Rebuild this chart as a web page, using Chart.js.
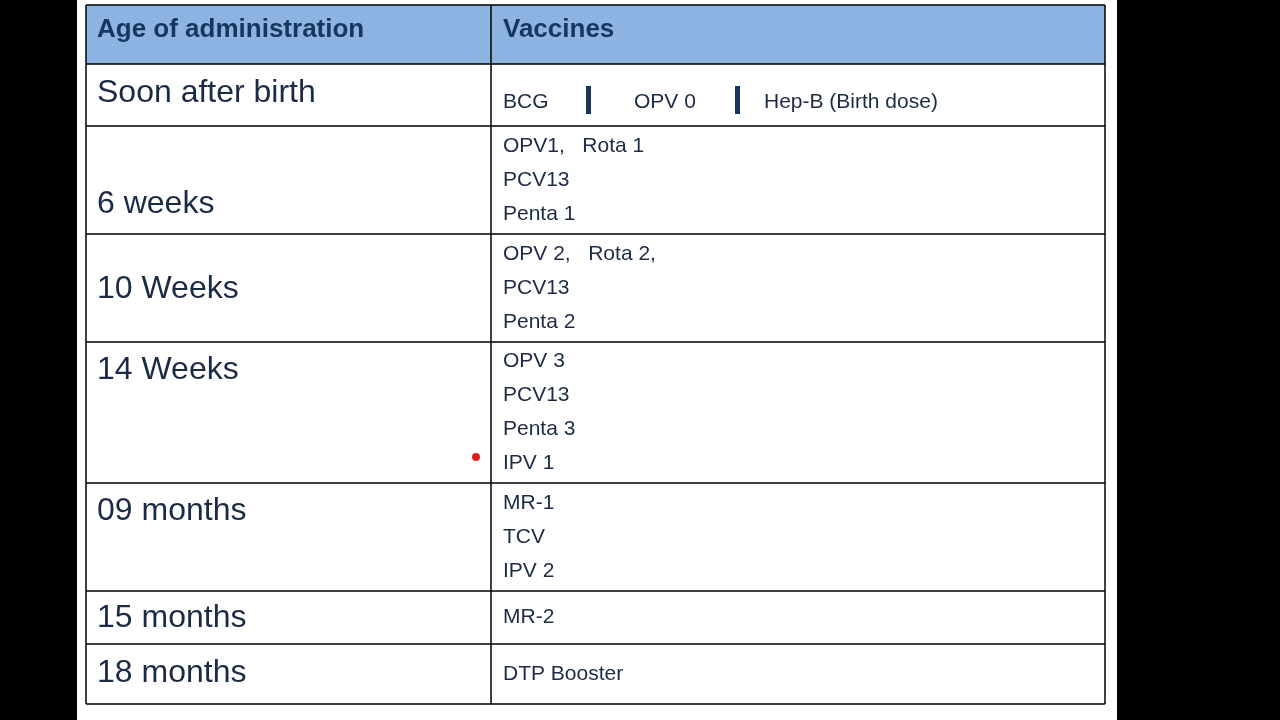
<!DOCTYPE html>
<html><head><meta charset="utf-8">
<script src="https://cdn.jsdelivr.net/npm/chart.js@4"></script>
<style>html,body{margin:0;background:#000}canvas{display:block}</style>
</head><body><canvas id="c" width="1280" height="720"></canvas>
<script>
const headers = ["Age of administration", "Vaccines"];
const ages = ["Soon after birth", "6 weeks", "10 Weeks", "14 Weeks", "09 months", "15 months", "18 months"];
const vaccines = [
  ["BCG|OPV 0|Hep-B (Birth dose)"],
  ["OPV1,   Rota 1", "PCV13", "Penta 1"],
  ["OPV 2,   Rota 2,", "PCV13", "Penta 2"],
  ["OPV 3", "PCV13", "Penta 3", "IPV 1"],
  ["MR-1", "TCV", "IPV 2"],
  ["MR-2"],
  ["DTP Booster"]
];
const rowBounds = [5, 64, 126, 234, 342, 483, 591, 644, 704];
const ageY = [93, 204, 289, 370, 511, 618, 673];
const vacFirstY = [102, 146, 254, 361, 503, 617, 674];
const colBounds = [86, 491, 1105];

const tablePlugin = {
  id: 'table',
  beforeDraw(chart) {
    const ctx = chart.ctx, X = chart.scales.x, Y = chart.scales.y;
    const px = v => X.getPixelForValue(v), py = v => Y.getPixelForValue(v);
    ctx.save();
    ctx.fillStyle = '#000'; ctx.fillRect(0, 0, 1280, 720);
    ctx.fillStyle = '#fff'; ctx.fillRect(px(77), py(0), px(1117) - px(77), py(720) - py(0));
    ctx.fillStyle = '#8db3e2';
    ctx.fillRect(px(colBounds[0]), py(rowBounds[0]), px(colBounds[2]) - px(colBounds[0]), py(rowBounds[1]) - py(rowBounds[0]));
    ctx.strokeStyle = '#000'; ctx.lineWidth = 1.5;
    rowBounds.forEach(r => { ctx.beginPath(); ctx.moveTo(px(colBounds[0]), py(r)); ctx.lineTo(px(colBounds[2]), py(r)); ctx.stroke(); });
    colBounds.forEach(c => { ctx.beginPath(); ctx.moveTo(px(c), py(rowBounds[0])); ctx.lineTo(px(c), py(rowBounds[rowBounds.length - 1])); ctx.stroke(); });
    ctx.textBaseline = 'middle'; ctx.textAlign = 'left';
    ctx.fillStyle = '#17365d';
    ctx.font = 'bold 26px "Liberation Sans", Arial, sans-serif';
    ctx.fillText(headers[0], px(97), py(30));
    ctx.fillText(headers[1], px(503), py(30));
    ctx.fillStyle = '#1c2b45';
    ctx.font = '32px "Liberation Sans", Arial, sans-serif';
    ages.forEach((a, i) => ctx.fillText(a, px(97), py(ageY[i])));
    ctx.font = '21px "Liberation Sans", Arial, sans-serif';
    vaccines.forEach((lines, i) => {
      lines.forEach((l, j) => {
        const y = py(vacFirstY[i] + j * 34);
        if (l.includes('|')) {
          const parts = l.split('|'), xs = [503, 634, 764], bars = [588, 737];
          parts.forEach((p, k) => ctx.fillText(p, px(xs[k]), y));
          ctx.fillStyle = '#17365d';
          bars.forEach(b => ctx.fillRect(px(b) - 2, y - 16, 5, 28));
          ctx.fillStyle = '#1c2b45';
        } else ctx.fillText(l, px(503), y);
      });
    });
    ctx.fillStyle = '#e02020';
    ctx.beginPath(); ctx.arc(px(476), py(457), 4, 0, Math.PI * 2); ctx.fill();
    ctx.restore();
  }
};

new Chart(document.getElementById('c'), {
  type: 'scatter',
  data: { datasets: [{ data: [] }] },
  options: {
    responsive: false, animation: false, devicePixelRatio: 1,
    layout: { padding: 0 },
    plugins: { legend: { display: false }, tooltip: { enabled: false } },
    scales: {
      x: { type: 'linear', min: 0, max: 1280, display: false },
      y: { type: 'linear', min: 0, max: 720, reverse: true, display: false }
    }
  },
  plugins: [tablePlugin]
});
</script></body></html>
